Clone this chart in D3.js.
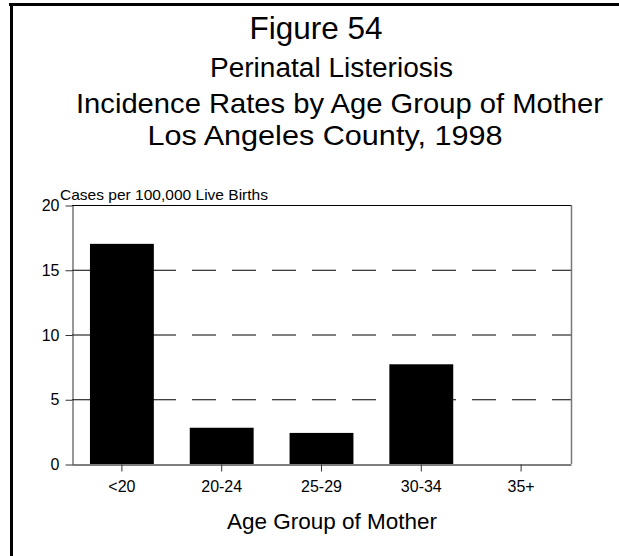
<!DOCTYPE html>
<html>
<head>
<meta charset="utf-8">
<script src="https://cdn.jsdelivr.net/npm/d3@7"></script>
<style>
  body { margin: 0; background: #fff; }
  text { font-family: "Liberation Sans", Arial, sans-serif; fill: #000; }
</style>
</head>
<body>
<svg id="chart" width="619" height="556"></svg>
<script>
// Data: incidence per 100,000 live births by age group of mother
const groups = ["<20", "20-24", "25-29", "30-34", "35+"];
const rates = [17.0, 2.8, 2.4, 7.7, 0];
const yTicks = [0, 5, 10, 15, 20];
const gridTicks = [5, 10, 15];

const svg = d3.select("#chart");
const width = 619;
const height = 556;

// plot area
const plotL = 72, plotR = 571, plotT = 205, plotB = 464;

// frame (top and left only)
svg.append("line")
  .attr("x1", 9).attr("x2", width).attr("y1", 4.5).attr("y2", 4.5)
  .attr("stroke", "#000").attr("stroke-width", 3);
svg.append("line")
  .attr("x1", 11.5).attr("x2", 11.5).attr("y1", 3).attr("y2", height)
  .attr("stroke", "#000").attr("stroke-width", 3);

// titles (the original type is a bit stretched sideways)
const titles = [
  { t: "Figure 54", x: 316, y: 39, size: 30.5, w: 133 },
  { t: "Perinatal Listeriosis", x: 331.5, y: 77, size: 27, w: 243 },
  { t: "Incidence Rates by Age Group of Mother", x: 339.5, y: 113, size: 28, w: 527 },
  { t: "Los Angeles County, 1998", x: 325, y: 145, size: 28.5, w: 355 }
];
svg.selectAll("text.title")
  .data(titles)
  .enter()
  .append("text")
  .attr("class", "title")
  .attr("x", (d) => d.x)
  .attr("y", (d) => d.y)
  .attr("text-anchor", "middle")
  .attr("font-size", (d) => d.size)
  .attr("textLength", (d) => d.w)
  .attr("lengthAdjust", "spacingAndGlyphs")
  .text((d) => d.t);

const x = d3.scaleBand()
  .domain(groups)
  .range([plotL, plotR])
  .paddingInner(0.36)
  .paddingOuter(0.18);

const y = d3.scaleLinear()
  .domain([0, 20])
  .range([plotB, plotT]);

// dashed gridlines
svg.selectAll("line.grid")
  .data(gridTicks)
  .enter()
  .append("line")
  .attr("class", "grid")
  .attr("x1", plotL).attr("x2", plotR)
  .attr("y1", (d) => y(d) + 0.5).attr("y2", (d) => y(d) + 0.5)
  .attr("stroke", "#000")
  .attr("stroke-width", 1)
  .attr("stroke-dasharray", "24,16");

// top and right border
svg.append("line")
  .attr("x1", plotL).attr("x2", plotR + 1)
  .attr("y1", y(20) + 0.5).attr("y2", y(20) + 0.5)
  .attr("stroke", "#000");
svg.append("line")
  .attr("x1", plotR + 0.5).attr("x2", plotR + 0.5)
  .attr("y1", y(20)).attr("y2", y(0))
  .attr("stroke", "#777").attr("stroke-width", 1.5);

// bars
svg.selectAll("rect.bar")
  .data(groups)
  .enter()
  .append("rect")
  .attr("class", "bar")
  .attr("x", (d) => x(d))
  .attr("width", x.bandwidth())
  .attr("y", (d, i) => y(rates[i]))
  .attr("height", (d, i) => y(0) - y(rates[i]))
  .attr("fill", "#000");

// y axis
const yAxis = svg.append("g")
  .attr("transform", `translate(${plotL + 0.5},0.5)`)
  .call(d3.axisLeft(y).tickValues(yTicks).tickSize(7).tickPadding(6).tickSizeOuter(0));
yAxis.select(".domain").attr("stroke", "#333");
yAxis.selectAll(".tick line").attr("stroke", "#333");
yAxis.selectAll(".tick text").attr("font-size", 16);

// x axis
const xAxis = svg.append("g")
  .attr("transform", `translate(0,${plotB + 0.5})`)
  .call(d3.axisBottom(x).tickSize(7).tickPadding(9).tickSizeOuter(0));
xAxis.select(".domain").attr("stroke", "#555").attr("stroke-width", 1.5);
xAxis.selectAll(".tick line").attr("stroke", "#333");
xAxis.selectAll(".tick text").attr("font-size", 16);

// axis titles
svg.append("text")
  .attr("x", 60)
  .attr("y", 200)
  .attr("font-size", 15)
  .attr("textLength", 208)
  .attr("lengthAdjust", "spacingAndGlyphs")
  .text("Cases per 100,000 Live Births");

svg.append("text")
  .attr("x", 332)
  .attr("y", 529)
  .attr("text-anchor", "middle")
  .attr("font-size", 22.5)
  .text("Age Group of Mother");
</script>
</body>
</html>
